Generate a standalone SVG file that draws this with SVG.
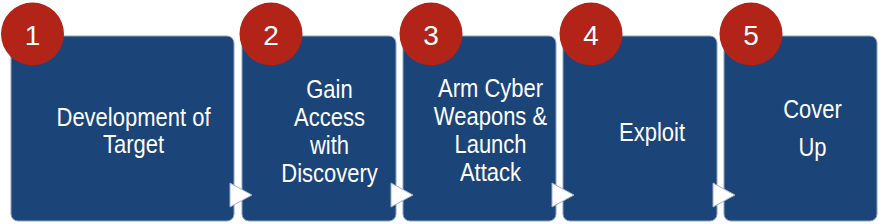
<svg xmlns="http://www.w3.org/2000/svg" width="879" height="224" viewBox="0 0 879 224">
<style>
.box{fill:#1b4479;stroke:#8fa3c2;stroke-width:1}
.num-c{fill:#b22318}
.num{fill:#ffffff;font-family:"Liberation Sans",Arial,sans-serif;font-size:28px;text-anchor:middle}
.lbl{fill:#ffffff;font-family:"Liberation Sans",Arial,sans-serif;font-size:25px;text-anchor:middle}
.arr{fill:#ffffff;stroke:#9fb0c9;stroke-width:1;stroke-linejoin:miter}
</style>
<rect width="879" height="224" fill="#ffffff"/>
<g id="node1">
<rect class="box" x="11" y="36" width="223" height="185" rx="7"/>
<circle class="num-c" cx="32.5" cy="34" r="31.5"/>
<text class="num" x="32.5" y="45">1</text>
<text class="lbl" transform="matrix(0.88 0 0 1 133.5 0)"><tspan x="0" y="126">Development of</tspan><tspan x="0" y="153">Target</tspan></text>
</g>
<g id="node2">
<rect class="box" x="242" y="36" width="154" height="185" rx="7"/>
<circle class="num-c" cx="271" cy="34" r="31.5"/>
<text class="num" x="271" y="45">2</text>
<text class="lbl" transform="matrix(0.88 0 0 1 329.5 0)"><tspan x="0" y="98">Gain</tspan><tspan x="0" y="126">Access</tspan><tspan x="0" y="154">with</tspan><tspan x="0" y="182">Discovery</tspan></text>
</g>
<g id="node3">
<rect class="box" x="403" y="36" width="153" height="185" rx="7"/>
<circle class="num-c" cx="431" cy="34" r="31.5"/>
<text class="num" x="431" y="45">3</text>
<text class="lbl" transform="matrix(0.88 0 0 1 490.5 0)"><tspan x="0" y="97">Arm Cyber</tspan><tspan x="0" y="125">Weapons &amp;</tspan><tspan x="0" y="153">Launch</tspan><tspan x="0" y="181.5">Attack</tspan></text>
</g>
<g id="node4">
<rect class="box" x="563" y="36" width="154" height="185" rx="7"/>
<circle class="num-c" cx="591" cy="34" r="31.5"/>
<text class="num" x="591" y="45">4</text>
<text class="lbl" transform="matrix(0.88 0 0 1 652 0)"><tspan x="0" y="141.5">Exploit</tspan></text>
</g>
<g id="node5">
<rect class="box" x="724" y="36" width="153" height="185" rx="7"/>
<circle class="num-c" cx="751" cy="34" r="31.5"/>
<text class="num" x="751" y="45">5</text>
<text class="lbl" transform="matrix(0.88 0 0 1 812.5 0)"><tspan x="0" y="118.5">Cover</tspan><tspan x="0" y="156.5">Up</tspan></text>
</g>
<g id="connectors">
<polygon class="arr" points="230,183 252,195 230,207"/>
<polygon class="arr" points="391,183 413,195 391,207"/>
<polygon class="arr" points="552,183 574,195 552,207"/>
<polygon class="arr" points="713,183 735,195 713,207"/>
</g>
</svg>
